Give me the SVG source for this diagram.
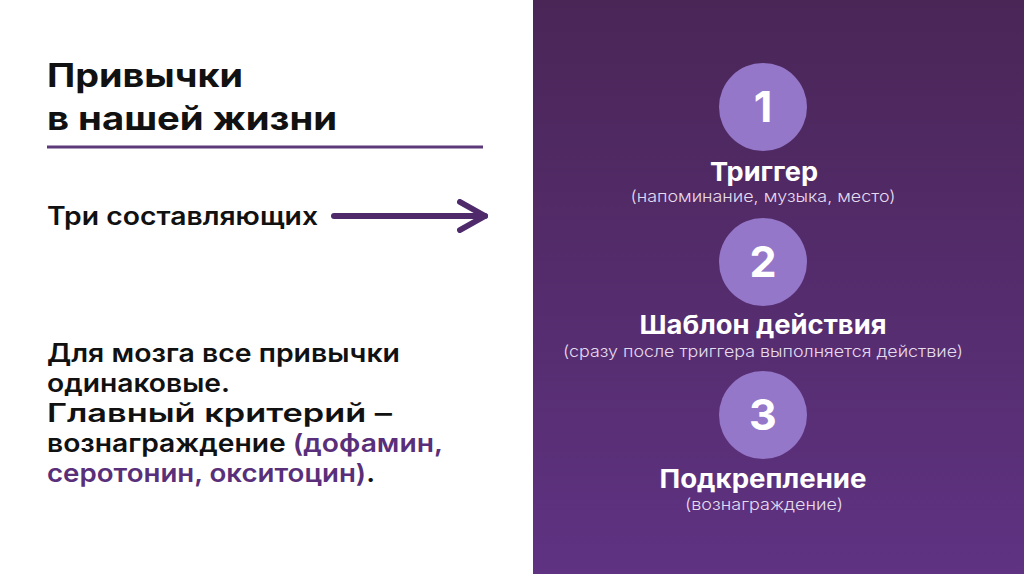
<svg xmlns="http://www.w3.org/2000/svg" width="1024" height="574" viewBox="0 0 1024 574">
<defs>
<linearGradient id="panel" x1="0" y1="0" x2="0" y2="1">
<stop offset="0" stop-color="#4a2657"/>
<stop offset="1" stop-color="#5f3282"/>
</linearGradient>
<marker id="chev" viewBox="0 0 32 34" markerWidth="32" markerHeight="34" refX="28" refY="17" orient="auto" markerUnits="userSpaceOnUse">
<path d="M3,3 L28,17 L3,31" fill="none" stroke="#4f2a6b" stroke-width="6" stroke-linecap="round" stroke-linejoin="round"/>
</marker>
<style>
.title{font-family:Inter,"Open Sans","Liberation Sans",sans-serif;font-weight:700;font-size:32px;fill:#111}
.body{font-family:Inter,"Open Sans","Liberation Sans",sans-serif;font-weight:600;font-size:25px;fill:#111}
.acc{fill:#5a2f7a}
.num{font-family:Inter,"Open Sans","Liberation Sans",sans-serif;font-weight:700;font-size:43px;fill:#fff;text-anchor:middle}
.head{font-family:Inter,"Open Sans","Liberation Sans",sans-serif;font-weight:700;font-size:26px;fill:#fff;text-anchor:middle}
.sub{font-family:Inter,"Open Sans","Liberation Sans",sans-serif;font-weight:300;font-size:16px;fill:#e6dcef;text-anchor:middle}
.circ{fill:#9477c9}
</style>
</defs>
<rect x="0" y="0" width="1024" height="574" fill="#fff"/>
<rect x="533" y="0" width="491" height="574" fill="url(#panel)"/>

<g id="title">
<text class="title" x="47" y="87" textLength="196" lengthAdjust="spacingAndGlyphs">Привычки</text>
<text class="title" x="47" y="130" textLength="290" lengthAdjust="spacingAndGlyphs">в нашей жизни</text>
<line x1="47" y1="147" x2="483" y2="147" stroke="#5c3a7a" stroke-width="3"/>
</g>

<g id="three">
<text class="body" x="47" y="225" textLength="271" lengthAdjust="spacingAndGlyphs">Три составляющих</text>
</g>

<g id="connectors">
<line x1="334" y1="216" x2="485" y2="216" stroke="#4f2a6b" stroke-width="6" stroke-linecap="round" marker-end="url(#chev)"/>
</g>

<g id="note">
<text class="body" x="47" y="362" textLength="353" lengthAdjust="spacingAndGlyphs">Для мозга все привычки</text>
<text class="body" x="47" y="392" textLength="183" lengthAdjust="spacingAndGlyphs">одинаковые.</text>
<text class="body" x="47" y="422" textLength="345" lengthAdjust="spacingAndGlyphs">Главный критерий –</text>
<text class="body" x="47" y="452" textLength="396" lengthAdjust="spacingAndGlyphs">вознаграждение <tspan class="acc">(дофамин,</tspan></text>
<text class="body acc" x="47" y="482" textLength="328" lengthAdjust="spacingAndGlyphs">серотонин, окситоцин)<tspan fill="#111">.</tspan></text>
</g>

<g id="step1">
<circle class="circ" cx="763" cy="107" r="44"/>
<text class="num" x="763" y="122">1</text>
<text class="head" x="764" y="181" textLength="108" lengthAdjust="spacingAndGlyphs">Триггер</text>
<text class="sub" x="763" y="202" textLength="265" lengthAdjust="spacingAndGlyphs">(напоминание, музыка, место)</text>
</g>

<g id="step2">
<circle class="circ" cx="763" cy="262" r="44"/>
<text class="num" x="763" y="277">2</text>
<text class="head" x="763" y="334" textLength="247" lengthAdjust="spacingAndGlyphs">Шаблон действия</text>
<text class="sub" x="763" y="357" textLength="400" lengthAdjust="spacingAndGlyphs">(сразу после триггера выполняется действие)</text>
</g>

<g id="step3">
<circle class="circ" cx="763" cy="415" r="44"/>
<text class="num" x="763" y="430">3</text>
<text class="head" x="763" y="488" textLength="207" lengthAdjust="spacingAndGlyphs">Подкрепление</text>
<text class="sub" x="764" y="510" textLength="158" lengthAdjust="spacingAndGlyphs">(вознаграждение)</text>
</g>
</svg>
